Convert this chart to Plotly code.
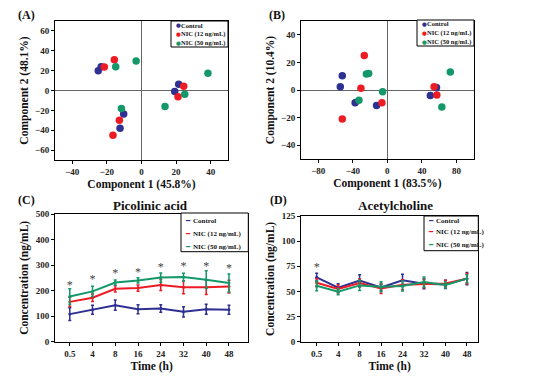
import plotly.graph_objects as go

W, H = 535, 382
FONT = "Liberation Serif"
C_BLUE = "#2E3192"
C_RED = "#ED1C24"
C_GREEN = "#14986A"
groups = ["Control", "NIC (12 ng/mL)", "NIC (50 ng/mL)"]
colors = [C_BLUE, C_RED, C_GREEN]

# Panel A PCA scores
a_x = {
    "Control": [-25, -23.3, 21.5, 19.2, -10.3, -12.4],
    "NIC (12 ng/mL)": [-21.5, -15.7, 24.4, 21.1, -12.8, -16.5],
    "NIC (50 ng/mL)": [-14.9, -3.1, 38.4, 25, 13.6, -11.6],
}
a_y = {
    "Control": [19.9, 23.9, 6.4, -1, -23.6, -38],
    "NIC (12 ng/mL)": [23.6, 31, 4.4, -6.4, -30, -45],
    "NIC (50 ng/mL)": [23.9, 29.6, 17.5, -3.7, -16.2, -18.2],
}
# Panel B PCA scores
b_x = {
    "Control": [-52.2, -54.5, -37.3, -12.5, 49.8, 56.9],
    "NIC (12 ng/mL)": [-26.7, -30.6, -52.2, -6.3, 54.1, 57.3],
    "NIC (50 ng/mL)": [-24.3, -21.6, -32.9, -5.5, 72.9, 63.1],
}
b_y = {
    "Control": [10.4, 2.4, -9.2, -11.2, -3.9, 1.9],
    "NIC (12 ng/mL)": [25, 1.2, -21.1, -9.2, 2.4, -3.6],
    "NIC (50 ng/mL)": [11.6, 11.9, -7.5, -1.2, 13.1, -12.4],
}

time_labels = ["0.5", "4", "8", "16", "24", "32", "40", "48"]
# Panel C: Picolinic acid
c_mean = {
    "Control": [108, 125, 143, 127, 130, 117, 127, 125],
    "NIC (12 ng/mL)": [156, 172, 207, 210, 222, 213, 213, 216],
    "NIC (50 ng/mL)": [177, 197, 232, 240, 251, 253, 243, 230],
}
c_err = {
    "Control": [25, 18, 20, 18, 15, 20, 20, 18],
    "NIC (12 ng/mL)": [18, 15, 12, 12, 22, 25, 28, 25],
    "NIC (50 ng/mL)": [30, 20, 10, 10, 18, 15, 35, 35],
}
c_star_y = [219, 240, 265, 268, 289, 291, 292, 285]
# Panel D: Acetylcholine
d_mean = {
    "Control": [64, 53.7, 60.7, 54, 61, 57.7, 57, 62.7],
    "NIC (12 ng/mL)": [58.7, 52.4, 58.4, 53, 56.7, 57.7, 58, 62.7],
    "NIC (50 ng/mL)": [55.7, 49.7, 56, 54.7, 55.4, 59.4, 56.4, 62.7],
}
d_err = {
    "Control": [4, 4, 6, 3, 6, 5, 4, 6],
    "NIC (12 ng/mL)": [4, 4, 4, 5, 5, 4, 3, 5],
    "NIC (50 ng/mL)": [5, 3, 5, 5, 5, 5, 3, 4],
}
d_star_x = ["0.5"]
d_star_y = [73]

fig = go.Figure()

def px_x(p):
    return p / W

def px_y(p):
    return 1 - p / H

for g, col in zip(groups, colors):
    fig.add_trace(go.Scatter(x=a_x[g], y=a_y[g], mode="markers", name=g,
                             marker=dict(color=col, size=7.5), xaxis="x", yaxis="y"))
for g, col in zip(groups, colors):
    fig.add_trace(go.Scatter(x=b_x[g], y=b_y[g], mode="markers", name=g,
                             marker=dict(color=col, size=7.5), xaxis="x2", yaxis="y2"))
for g, col in zip(groups, colors):
    fig.add_trace(go.Scatter(x=time_labels, y=c_mean[g], mode="lines+markers", name=g,
                             line=dict(color=col, width=2),
                             marker=dict(color=col, size=3),
                             error_y=dict(type="data", array=c_err[g], color=col,
                                          thickness=1.5, width=1.5),
                             xaxis="x3", yaxis="y3"))
for g, col in zip(groups, colors):
    fig.add_trace(go.Scatter(x=time_labels, y=d_mean[g], mode="lines+markers", name=g,
                             line=dict(color=col, width=2),
                             marker=dict(color=col, size=3),
                             error_y=dict(type="data", array=d_err[g], color=col,
                                          thickness=1.5, width=1.5),
                             xaxis="x4", yaxis="y4"))
fig.add_trace(go.Scatter(x=time_labels, y=c_star_y, mode="text", text=["*"] * len(c_star_y),
                         textfont=dict(family=FONT, size=12, color="#444"),
                         xaxis="x3", yaxis="y3"))
fig.add_trace(go.Scatter(x=d_star_x, y=d_star_y, mode="text", text=["*"] * len(d_star_y),
                         textfont=dict(family=FONT, size=12, color="#444"),
                         xaxis="x4", yaxis="y4"))

tickfont = dict(family=FONT, size=9, color="#222", weight="bold")
titlefont = dict(family=FONT, size=11.5, color="#111", weight="bold")

def ax(domain, rng, title, standoff, **kw):
    d = dict(domain=domain, range=rng, showline=True, linecolor="black", linewidth=1,
             mirror=True, ticks="outside", ticklen=3, tickcolor="black",
             showgrid=False, tickfont=tickfont, zeroline=False, automargin=False,
             title=dict(text=title, font=titlefont, standoff=standoff))
    d.update(kw)
    return d

zl = dict(zeroline=True, zerolinecolor="#666", zerolinewidth=1)

fig.update_layout(
    width=W, height=H, margin=dict(l=0, r=0, t=0, b=0, autoexpand=False),
    paper_bgcolor="white", plot_bgcolor="white", showlegend=False,
    font=dict(family=FONT),
    xaxis=ax([px_x(55), px_x(228)], [-50, 50], "Component 1 (45.8%)", 4, anchor="y",
             tickvals=[-40, -20, 0, 20, 40], **zl),
    yaxis=ax([px_y(160), px_y(21)], [-70, 70], "Component 2 (48.1%)", 4, anchor="x",
             tickvals=[-60, -40, -20, 0, 20, 40, 60], **zl),
    xaxis2=ax([px_x(301), px_x(473.7)], [-100, 100], "Component 1 (83.5%)", 4, anchor="y2",
              tickvals=[-80, -40, 0, 40, 80], **zl),
    yaxis2=ax([px_y(159), px_y(21)], [-50, 50], "Component 2 (10.4%)", 4, anchor="x2",
              tickvals=[-40, -20, 0, 20, 40], **zl),
    xaxis3=ax([px_x(55), px_x(248.3)], [-0.65, 7.85], "Time (h)", 4, anchor="y3",
              type="category"),
    yaxis3=ax([px_y(341.7), px_y(214)], [0, 500], "Concentration (ng/mL)", 4, anchor="x3",
              tickvals=[0, 100, 200, 300, 400, 500]),
    xaxis4=ax([px_x(301), px_x(478.3)], [-0.73, 7.53], "Time (h)", 4, anchor="y4",
              type="category"),
    yaxis4=ax([px_y(341.7), px_y(216)], [0, 125], "Concentration (ng/mL)", 4, anchor="x4",
              tickvals=[0, 25, 50, 75, 100, 125]),
)

# Custom compact legends:
# (box left, top, right, bottom, row ys, symbol x, text x, symbol, symbol size, text size)
legend_specs = [
    (171, 21, 228, 47, [25.5, 34, 42.5], 173.5, 178.5, "●", 5.5, 6.5),
    (417, 20, 474, 46, [24, 33, 41.5], 419.5, 424.5, "●", 5.5, 6.5),
    (181, 213, 248.3, 251.7, [221, 234, 246.7], 183, 191, "━", 7, 7),
    (424, 216, 478.3, 250.7, [220.7, 232.3, 244.5], 426, 434, "━", 7, 7),
]
for (x0, y0, x1, y1, rows, sx, tx, sym, ss, fs) in legend_specs:
    fig.add_shape(type="rect", xref="paper", yref="paper",
                  x0=px_x(x0), x1=px_x(x1), y0=px_y(y1), y1=px_y(y0),
                  line=dict(color="black", width=1), fillcolor="white", layer="above")
    for g, col, ry in zip(groups, colors, rows):
        fig.add_annotation(text=f"<b>{sym}</b>", x=px_x(sx), y=px_y(ry), xref="paper",
                           yref="paper", showarrow=False, xanchor="left", yanchor="middle",
                           font=dict(family="DejaVu Sans", size=ss, color=col))
        fig.add_annotation(text=f"<b>{g}</b>", x=px_x(tx), y=px_y(ry), xref="paper",
                           yref="paper", showarrow=False, xanchor="left", yanchor="middle",
                           font=dict(family=FONT, size=fs, color="#111"))

for txt, x, y, s in [("(A)", 26, 15, 12), ("(B)", 277, 15, 12), ("(C)", 26, 200, 12),
                     ("(D)", 278, 200, 12), ("Picolinic acid", 150, 205, 13),
                     ("Acetylcholine", 395, 205, 13)]:
    fig.add_annotation(text=f"<b>{txt}</b>", x=px_x(x), y=px_y(y), xref="paper", yref="paper",
                       showarrow=False, xanchor="center", yanchor="middle",
                       font=dict(family=FONT, size=s, color="#111"))

fig.write_html("out.html", config={"displayModeBar": False},
               post_script="document.body.style.margin='0px';document.body.style.overflow='hidden';")
